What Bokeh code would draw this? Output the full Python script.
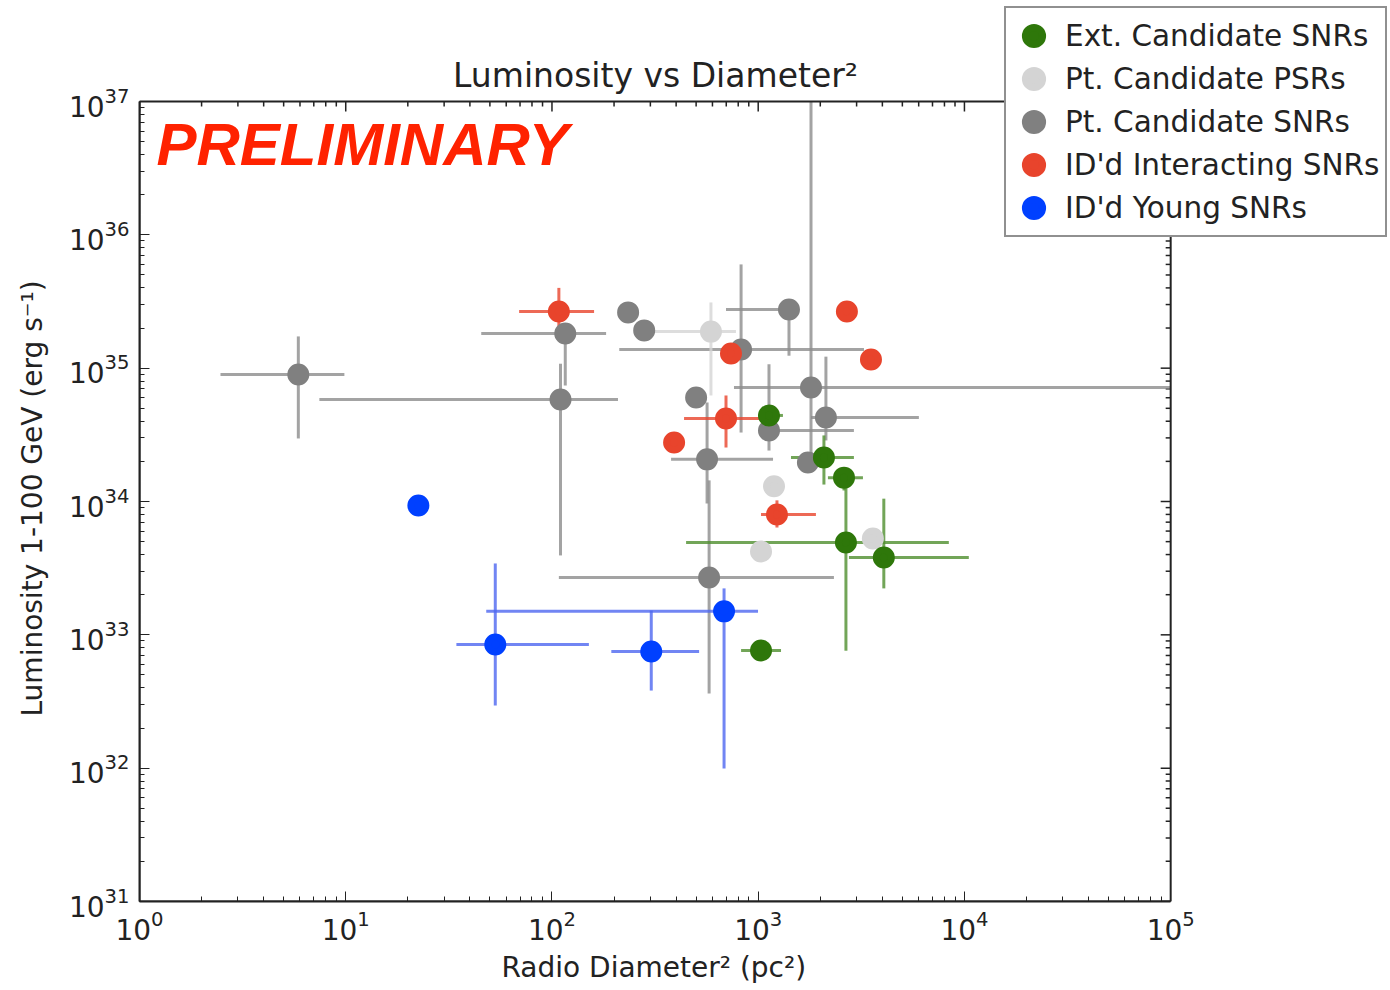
import numpy as np
from bokeh.plotting import figure
from bokeh.models import (Legend, LegendItem, Label, Title, FixedTicker,
                          ColumnDataSource, BoxAnnotation)
from bokeh.embed import file_html
from bokeh.resources import INLINE

# ---------------- data ----------------
# Ext. Candidate SNRs
ext_x   = [1128, 2083, 2606, 2663, 4065, 1032]
ext_y   = [4.42e34, 2.14e34, 1.51e34, 4.93e33, 3.80e33, 7.63e32]
ext_xlo = [1000, 1442, 2178, 447, 2754, 826]
ext_xhi = [1318, 2911, 3220, 8400, 10500, 1290]
ext_ylo = [None, 1.34e34, 1.21e34, 7.6e32, 2.23e33, None]
ext_yhi = [None, 3.13e34, 1.71e34, 1.32e34, 1.05e34, None]

# Pt. Candidate PSRs
psr_x   = [590, 1193, 1032, 3597]
psr_y   = [1.88e35, 1.30e34, 4.22e33, 5.28e33]
psr_xlo = [280, None, None, None]
psr_xhi = [780, None, None, None]
psr_ylo = [6.24e34, None, None, None]
psr_yhi = [3.11e35, None, None, None]

# Pt. Candidate SNRs
snr_x   = [5.89, 110, 116, 234, 280, 826, 1410, 500, 565, 578, 1128, 1803, 2130, 1742]
snr_y   = [8.96e34, 5.82e34, 1.82e35, 2.62e35, 1.92e35, 1.38e35, 2.75e35, 6.03e34,
           2.07e34, 2.69e33, 3.41e34, 7.16e34, 4.27e34, 1.96e34]
snr_xlo = [2.47, 7.45, 45.4, None, None, 212, 698, None, 378, 108, 1128, 763, 1803, None]
snr_xhi = [9.85, 209, 183, None, None, 3257, 1410, None, 1180, 2329, 2911, 1e5, 6012, None]
snr_ylo = [2.97e34, 3.94e33, 7.41e34, None, None, 3.29e34, 1.24e35, None, 9.66e33,
           3.63e32, 2.41e34, 2.03e34, 2.87e34, None]
snr_yhi = [1.73e35, 1.08e35, 1.82e35, None, None, 6.0e35, 2.75e35, None, 5.53e34,
           1.44e34, 1.07e35, 1e37, 1.22e35, None]

# ID'd Interacting SNRs
int_x   = [108, 738, 2692, 3522, 698, 391, 1233]
int_y   = [2.66e35, 1.29e35, 2.66e35, 1.16e35, 4.19e34, 2.77e34, 7.99e33]
int_xlo = [69.3, None, None, None, 437, None, 1032]
int_xhi = [160, None, None, None, 1091, None, 1905]
int_ylo = [2.02e35, None, None, None, 2.54e34, None, 6.38e33]
int_yhi = [4.0e35, None, None, None, 6.24e34, None, 1.02e34]

# ID'd Young SNRs
yng_x   = [22.5, 53.1, 303, 683]
yng_y   = [9.33e33, 8.46e32, 7.50e32, 1.50e33]
yng_xlo = [None, 34.4, 194, 48.0]
yng_xhi = [None, 151, 517, 998]
yng_ylo = [None, 2.95e32, 3.82e32, 9.94e31]
yng_yhi = [None, 3.43e33, 1.52e33, 2.23e33]

x_major = [1, 10, 100, 1e3, 1e4, 1e5]
y_major = [1e31, 1e32, 1e33, 1e34, 1e35, 1e36, 1e37]

# ---------------- layout constants ----------------
W, H = 1390, 990
LEFT, BOTTOM = 138, 89            # frame left / bottom border
AX_W, AX_H = 1032, 800            # size of the visible axes box
X0, X1 = x_major[0], x_major[-1]
Y0, Y1 = y_major[0], y_major[-1]
ndx = np.log10(X1 / X0)
ndy = np.log10(Y1 / Y0)
frame_w = W - LEFT
frame_h = H - BOTTOM
# the frame reaches the top/right canvas edges so that the legend may
# overlap the border of the axes box; ranges keep the box at its size
x_end = X0 * 10 ** (ndx * frame_w / AX_W)
y_end = Y0 * 10 ** (ndy * frame_h / AX_H)

FONT = "DejaVu Sans"
INK = "#222222"
p = figure(width=W, height=H, x_axis_type="log", y_axis_type="log",
           x_range=(X0, x_end), y_range=(Y0, y_end),
           output_backend="svg", toolbar_location=None,
           min_border_left=LEFT, min_border_right=0,
           min_border_top=0, min_border_bottom=BOTTOM)
p.title.visible = False
p.background_fill_color = "white"
p.border_fill_color = "white"
p.outline_line_color = None
p.grid.visible = False


def minor_of(majors):
    out = []
    for m in majors[:-1]:
        out += [m * k for k in range(2, 10)]
    return out


x_minor = minor_of(x_major)
y_minor = minor_of(y_major)
xt = FixedTicker(ticks=x_major, minor_ticks=x_minor)
yt = FixedTicker(ticks=y_major, minor_ticks=y_minor)


def style_axis(ax, ticker, bounds):
    ax.ticker = ticker
    ax.bounds = bounds
    ax.axis_line_color = INK
    ax.axis_line_width = 2
    ax.major_tick_in = 10
    ax.major_tick_out = 0
    ax.minor_tick_in = 5
    ax.minor_tick_out = 0
    ax.major_tick_line_color = INK
    ax.minor_tick_line_color = INK
    ax.major_label_text_font = FONT
    ax.major_label_text_font_size = "28px"
    ax.major_label_text_color = INK


style_axis(p.xaxis[0], xt, (X0, X1))
style_axis(p.yaxis[0], yt, (Y0, Y1))
p.xaxis[0].major_label_standoff = 8
p.yaxis[0].major_label_standoff = 10

# axis titles (placed along the visible box rather than the whole frame)
xlab = Title(text="Radio Diameter\u00b2 (pc\u00b2)", align="left", offset=362,
             vertical_align="bottom", standoff=12, text_font=FONT,
             text_font_size="28px", text_font_style="normal", text_color=INK)
p.add_layout(xlab, "below")
ylab = Title(text="Luminosity 1-100 GeV (erg s\u207b\u00b9)", align="left", offset=185,
             vertical_align="top", standoff=30, text_font=FONT,
             text_font_size="28px", text_font_style="normal", text_color=INK)
p.add_layout(ylab, "left")

# axes box (top and right sides) plus inward ticks on top/right
p.add_layout(BoxAnnotation(left=X0, right=X1, bottom=Y0, top=Y1,
                           fill_alpha=0, line_color=INK, line_alpha=1.0,
                           line_width=2))
fy_maj = 10 ** (-10 * ndy / AX_H)
fy_min = 10 ** (-5 * ndy / AX_H)
fx_maj = 10 ** (-10 * ndx / AX_W)
fx_min = 10 ** (-5 * ndx / AX_W)
tx = list(x_major) + x_minor
ty_top = [Y1] * len(tx)
ty_bot = [Y1 * fy_maj] * len(x_major) + [Y1 * fy_min] * len(x_minor)
p.segment(x0=tx, y0=ty_top, x1=tx, y1=ty_bot, line_color=INK, line_width=1.5)
ty = list(y_major) + y_minor
rx_a = [X1] * len(ty)
rx_b = [X1 * fx_maj] * len(y_major) + [X1 * fx_min] * len(y_minor)
p.segment(x0=rx_a, y0=ty, x1=rx_b, y1=ty, line_color=INK, line_width=1.5)


def arr(v):
    return np.array([np.nan if a is None else a for a in v], dtype=float)


groups = [
    ("Pt. Candidate SNRs", "#808080", "#8c8c8c",
     snr_x, snr_y, snr_xlo, snr_xhi, snr_ylo, snr_yhi),
    ("Pt. Candidate PSRs", "#d4d4d4", "#d4d4d4",
     psr_x, psr_y, psr_xlo, psr_xhi, psr_ylo, psr_yhi),
    ("ID'd Interacting SNRs", "#e8442c", "#e8442c",
     int_x, int_y, int_xlo, int_xhi, int_ylo, int_yhi),
    ("ID'd Young SNRs", "#0040ff", "#4d66f0",
     yng_x, yng_y, yng_xlo, yng_xhi, yng_ylo, yng_yhi),
    ("Ext. Candidate SNRs", "#2e770a", "#4f8f2e",
     ext_x, ext_y, ext_xlo, ext_xhi, ext_ylo, ext_yhi),
]

# error bars first
for name, col, ecol, x, y, xlo, xhi, ylo, yhi in groups:
    src = ColumnDataSource(dict(x=arr(x), y=arr(y), xlo=arr(xlo), xhi=arr(xhi),
                                ylo=arr(ylo), yhi=arr(yhi)))
    p.segment(x0="xlo", y0="y", x1="xhi", y1="y", source=src,
              line_color=ecol, line_width=3, line_alpha=0.8)
    p.segment(x0="x", y0="ylo", x1="x", y1="yhi", source=src,
              line_color=ecol, line_width=3, line_alpha=0.8)

renderers = {}
for name, col, ecol, x, y, xlo, xhi, ylo, yhi in groups:
    src = ColumnDataSource(dict(x=arr(x), y=arr(y)))
    # size + outline width give a 22px disc (thick outline also enlarges legend disc)
    renderers[name] = p.scatter("x", "y", source=src, size=15, marker="circle",
                                fill_color=col, line_color=col, line_width=7)

order = ["Ext. Candidate SNRs", "Pt. Candidate PSRs", "Pt. Candidate SNRs",
         "ID'd Interacting SNRs", "ID'd Young SNRs"]
legend = Legend(items=[LegendItem(label=n, renderers=[renderers[n]]) for n in order],
                location=(1003 - LEFT, frame_h - 237))
legend.label_text_font = FONT
legend.label_text_font_size = "29.5px"
legend.label_text_color = INK
legend.border_line_color = INK
legend.border_line_width = 2
legend.background_fill_color = "white"
legend.background_fill_alpha = 1.0
legend.glyph_width = 43
legend.glyph_height = 43
legend.label_height = 43
legend.label_standoff = 10
legend.spacing = 0
legend.padding = 6
legend.margin = 0
p.add_layout(legend, "center")

title = Label(x=(AX_W / 2), y=frame_h - 88 + 13, x_units="screen", y_units="screen",
              text="Luminosity vs Diameter\u00b2", text_font=FONT,
              text_font_size="33px", text_color=INK, text_align="center",
              text_baseline="alphabetic")
p.add_layout(title)

prelim = Label(x=17, y=757, x_units="screen", y_units="screen",
               text="PRELIMINARY", text_font="Liberation Sans",
               text_font_style="bold italic", text_font_size="60px",
               text_color="#ff2200", text_baseline="alphabetic")
p.add_layout(prelim)

open("out.html", "w").write(file_html(p, INLINE))
